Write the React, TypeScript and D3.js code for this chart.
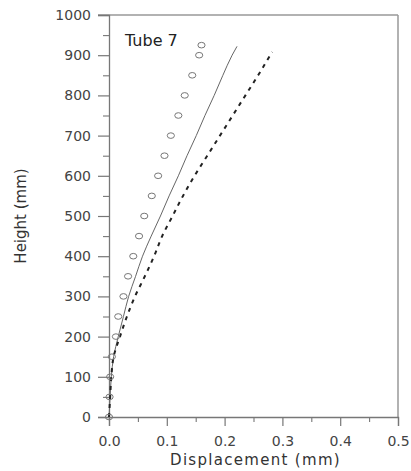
import React, { useEffect, useRef } from "react";
import * as d3 from "d3";

const heights = [0, 50, 100, 150, 200, 250, 300, 350, 400, 450, 500, 550, 600, 650, 700, 750, 800, 850, 900, 925];
const measuredX = [0, 0.001, 0.002, 0.005, 0.012, 0.016, 0.025, 0.033, 0.042, 0.052, 0.061, 0.074, 0.085, 0.096, 0.107, 0.12, 0.131, 0.144, 0.156, 0.16];

const solidH = [0, 50, 100, 150, 200, 250, 300, 350, 400, 450, 500, 550, 600, 650, 700, 750, 800, 850, 900, 922];
const solidX = [0, 0.002, 0.004, 0.008, 0.016, 0.025, 0.034, 0.046, 0.058, 0.073, 0.089, 0.104, 0.12, 0.135, 0.151, 0.166, 0.182, 0.197, 0.213, 0.2215];

const dashH = [0, 50, 100, 150, 200, 250, 300, 350, 400, 450, 500, 550, 600, 650, 700, 750, 800, 850, 900, 908];
const dashX = [0, 0.002, 0.004, 0.008, 0.019, 0.031, 0.045, 0.062, 0.078, 0.092, 0.11, 0.128, 0.148, 0.17, 0.192, 0.214, 0.236, 0.258, 0.279, 0.2825];

const yTicks = [0, 100, 200, 300, 400, 500, 600, 700, 800, 900, 1000];
const yMinor = [50, 150, 250, 350, 450, 550, 650, 750, 850, 950];
const xTicks = [0, 0.1, 0.2, 0.3, 0.4, 0.5];
const xMinor = [0.05, 0.15, 0.25, 0.35, 0.45];

const xTitle = "Displacement (mm)";
const yTitle = "Height (mm)";
const panelLabel = "Tube 7";

const W = 411, H = 471;
const left = 109, right = 398, top = 15, bottom = 417;
const FONT = "'DejaVu Sans', sans-serif";

export default function App() {
  const ref = useRef<SVGSVGElement>(null);
  useEffect(() => {
    const svg = d3.select(ref.current);
    svg.selectAll("*").remove();
    const x = d3.scaleLinear().domain([0, 0.5]).range([left, right]);
    const y = d3.scaleLinear().domain([0, 1000]).range([bottom, top]);

    // frame top & right
    svg.append("line").attr("x1", left - 11).attr("x2", right).attr("y1", top).attr("y2", top)
      .attr("stroke", "#999").attr("stroke-width", 1.5);
    svg.append("line").attr("x1", right).attr("x2", right).attr("y1", top).attr("y2", bottom)
      .attr("stroke", "#999").attr("stroke-width", 1.5);

    // y axis
    const ya = svg.append("g").attr("transform", `translate(${left},0)`)
      .call(d3.axisLeft(y).tickValues(yTicks).tickSize(11).tickPadding(7).tickFormat(d3.format("d")));
    ya.select(".domain").attr("stroke", "#777").attr("stroke-width", 1.3);
    ya.selectAll(".tick line").attr("stroke", "#777").attr("stroke-width", 1.2);
    ya.selectAll(".tick text").attr("font-family", FONT).attr("font-size", 14).attr("fill", "#444");
    const ym = svg.append("g").attr("transform", `translate(${left},0)`)
      .call(d3.axisLeft(y).tickValues(yMinor).tickSize(6).tickFormat(() => ""));
    ym.select(".domain").remove();
    ym.selectAll(".tick line").attr("stroke", "#777").attr("stroke-width", 1.1);

    // x axis
    const xa = svg.append("g").attr("transform", `translate(0,${bottom})`)
      .call(d3.axisBottom(x).tickValues(xTicks).tickSize(9).tickPadding(10).tickFormat(d3.format(".1f")));
    xa.select(".domain").attr("stroke", "#777").attr("stroke-width", 1.3);
    xa.selectAll(".tick line").attr("stroke", "#777").attr("stroke-width", 1.2);
    xa.selectAll(".tick text").attr("font-family", FONT).attr("font-size", 14).attr("fill", "#444");
    const xm = svg.append("g").attr("transform", `translate(0,${bottom})`)
      .call(d3.axisBottom(x).tickValues(xMinor).tickSize(5).tickFormat(() => ""));
    xm.select(".domain").remove();
    xm.selectAll(".tick line").attr("stroke", "#777").attr("stroke-width", 1.1);

    // titles
    svg.append("text").attr("x", (left + right) / 2 + 2).attr("y", 465).attr("text-anchor", "middle")
      .attr("font-family", FONT).attr("font-size", 15).attr("letter-spacing", 1.3).attr("fill", "#333").text(xTitle);
    svg.append("text").attr("transform", `translate(26,216) rotate(-90)`).attr("text-anchor", "middle")
      .attr("font-family", FONT).attr("font-size", 15).attr("fill", "#333").text(yTitle);
    svg.append("text").attr("x", 125).attr("y", 46)
      .attr("font-family", FONT).attr("font-size", 16).attr("fill", "#222").text(panelLabel);

    // solid line
    const solid = d3.line<number>().x((_, i) => x(solidX[i])).y((d) => y(d)).curve(d3.curveMonotoneY);
    svg.append("path").datum(solidH).attr("d", solid).attr("fill", "none")
      .attr("stroke", "#666").attr("stroke-width", 1);

    // dashed line
    const dash = d3.line<number>().x((_, i) => x(dashX[i])).y((d) => y(d)).curve(d3.curveMonotoneY);
    svg.append("path").datum(dashH).attr("d", dash).attr("fill", "none")
      .attr("stroke", "#222").attr("stroke-width", 2).attr("stroke-dasharray", "4,5");

    // measured points
    svg.append("g").selectAll("ellipse").data(heights).join("ellipse")
      .attr("cx", (_, i) => x(measuredX[i])).attr("cy", (d) => y(d))
      .attr("rx", 3.6).attr("ry", 2.8).attr("fill", "none").attr("stroke", "#777").attr("stroke-width", 1);
  }, []);
  return <svg ref={ref} width={W} height={H} style={{ position: "absolute", left: 0, top: 0, background: "#fff" }} />;
}
